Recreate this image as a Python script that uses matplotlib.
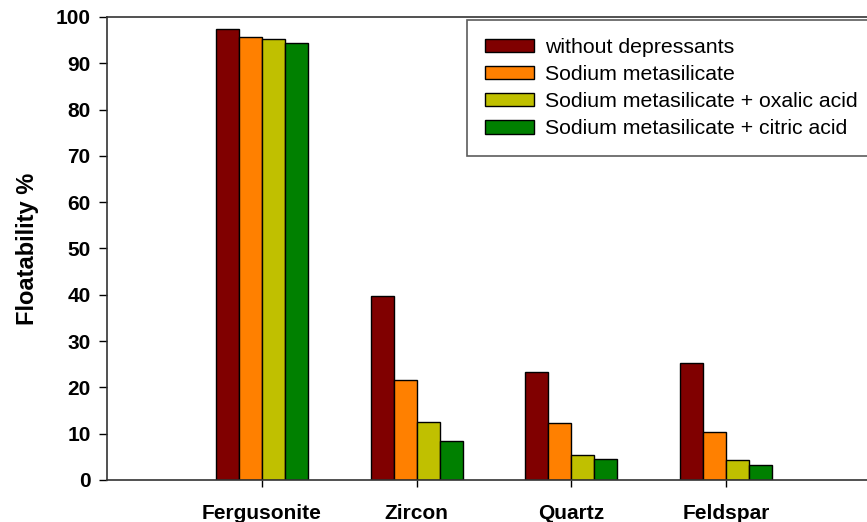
#!/usr/bin/env python3
import numpy as np
import matplotlib
matplotlib.use("Agg")
import matplotlib.pyplot as plt

plt.rcParams['font.family'] = ['Liberation Sans', 'DejaVu Sans']

# data
minerals = ["Fergusonite", "Zircon", "Quartz", "Feldspar"]
labels = ["without depressants", "Sodium metasilicate",
          "Sodium metasilicate + oxalic acid", "Sodium metasilicate + citric acid"]
without_dep = [97.4, 39.7, 23.3, 25.3]
na_silicate = [95.7, 21.6, 12.3, 10.4]
na_sil_oxalic = [95.2, 12.5, 5.4, 4.3]
na_sil_citric = [94.4, 8.4, 4.5, 3.2]
colors = ["#800000", "#ff8000", "#c0c000", "#008000"]

series = [without_dep, na_silicate, na_sil_oxalic, na_sil_citric]

fig = plt.figure(figsize=(8.67, 5.22), dpi=100)
ax = fig.add_axes([0.1238, 0.0805, 0.892, 0.887])

x = np.arange(1, len(minerals) + 1)
w = 0.149
for i, (vals, lab, c) in enumerate(zip(series, labels, colors)):
    ax.bar(x + (i - 1.5) * w, vals, w, color=c, edgecolor="black",
           linewidth=1.0, label=lab)

ax.set_xlim(0, 5)
ax.set_ylim(0, 100)
ax.set_yticks(np.arange(0, 101, 10))
ax.set_xticks(x)
ax.set_xticklabels(minerals, fontsize=15, fontweight="bold")
for t in ax.get_yticklabels():
    t.set_fontsize(15)
    t.set_fontweight("bold")
ax.tick_params(axis="y", direction="out", length=6, width=1, pad=6)
ax.tick_params(axis="x", direction="out", length=5, width=1, pad=12)
ax.set_ylabel("Floatability %", fontsize=17, fontweight="bold", labelpad=12)

for s in ax.spines.values():
    s.set_linewidth(1.2)
    s.set_color("#333333")

leg = fig.legend(loc="upper left", bbox_to_anchor=(467 / 867, 1 - 20 / 522),
                 fontsize=15.3, frameon=True, fancybox=False,
                 handlelength=2.3, handleheight=0.6, handletextpad=0.5,
                 labelspacing=0.38, borderpad=0.85, borderaxespad=0)
leg.get_frame().set_edgecolor("#333333")
leg.get_frame().set_linewidth(1.2)

fig.savefig("out.png", dpi=100)
